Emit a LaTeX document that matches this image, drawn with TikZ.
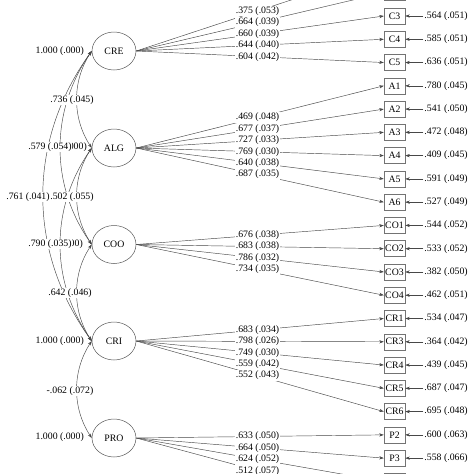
\documentclass[tikz,border=0pt]{standalone}
\usepackage{fontspec}
\setmainfont{Liberation Serif}
\usetikzlibrary{shapes.geometric,arrows.meta}
\begin{document}
\begin{tikzpicture}[x=1pt,y=-1pt,
  font=\fontsize{9.8}{11}\selectfont,
  latent/.style={ellipse,draw=black!65,line width=0.5pt,minimum width=44pt,minimum height=38pt,inner sep=0pt},
  obs/.style={rectangle,draw=black!55,line width=0.5pt,minimum width=21pt,minimum height=16pt,inner sep=0pt},
  lab/.style={fill=white,inner sep=0.8pt},
  con/.style={draw=black!72,line width=0.45pt},
  tip/.style={-{Stealth[length=4.5pt,width=3.2pt]}},
  dtip/.style={{Stealth[length=4.5pt,width=3.2pt]}-{Stealth[length=4.5pt,width=3.2pt]}}
]
\useasboundingbox (0,0) rectangle (474,474);
\fill[white] (0,0) rectangle (474,474);
\clip (0,0) rectangle (474,474);

% latent variables
\node[latent] (CRE) at (114,51) {CRE};
\node[latent] (ALG) at (114,148) {ALG};
\node[latent] (COO) at (114,244.5) {COO};
\node[latent] (CRI) at (114,341) {CRI};
\node[latent] (PRO) at (114,438) {PRO};

% indicators and loading lines
\foreach \n/\k/\lat in {C1/-2/CRE,C2/-1/CRE,C3/0/CRE,C4/1/CRE,C5/2/CRE,
  A1/3/ALG,A2/4/ALG,A3/5/ALG,A4/6/ALG,A5/7/ALG,A6/8/ALG,
  CO1/9/COO,CO2/10/COO,CO3/11/COO,CO4/12/COO,
  CR1/13/CRI,CR3/14/CRI,CR4/15/CRI,CR5/16/CRI,CR6/17/CRI,
  P2/18/PRO,P3/19/PRO,P4/20/PRO,P5/21/PRO}{
  \node[obs] (\n) at (394.5,{16+23.27*\k}) {\n};
  \draw[con,tip] (\lat.east) -- (\n.west);
}
% loading labels
\foreach \n/\lat/\ld in {C1/CRE/{.375 (.053)},C2/CRE/{.664 (.039)},C3/CRE/{.660 (.039)},C4/CRE/{.644 (.040)},C5/CRE/{.604 (.042)},
  A1/ALG/{.469 (.048)},A2/ALG/{.677 (.037)},A3/ALG/{.727 (.033)},A4/ALG/{.769 (.030)},A5/ALG/{.640 (.038)},A6/ALG/{.687 (.035)},
  CO1/COO/{.676 (.038)},CO2/COO/{.683 (.038)},CO3/COO/{.786 (.032)},CO4/COO/{.734 (.035)},
  CR1/CRI/{.683 (.034)},CR3/CRI/{.798 (.026)},CR4/CRI/{.749 (.030)},CR5/CRI/{.559 (.042)},CR6/CRI/{.552 (.043)},
  P2/PRO/{.633 (.050)},P3/PRO/{.664 (.050)},P4/PRO/{.624 (.052)},P5/PRO/{.512 (.057)}}{
  \path (\lat.east) -- node[lab,pos=0.49] (l\n) {\ld} (\n.west);
}
% error variances
\foreach \n/\e in {C3/{.564 (.051)},C4/{.585 (.051)},C5/{.636 (.051)},
  A1/{.780 (.045)},A2/{.541 (.050)},A3/{.472 (.048)},A4/{.409 (.045)},A5/{.591 (.049)},A6/{.527 (.049)},
  CO1/{.544 (.052)},CO2/{.533 (.052)},CO3/{.382 (.050)},CO4/{.462 (.051)},
  CR1/{.534 (.047)},CR3/{.364 (.042)},CR4/{.439 (.045)},CR5/{.687 (.047)},CR6/{.695 (.048)},
  P2/{.600 (.063)},P3/{.558 (.066)}}{
  \node[anchor=west,inner sep=1pt] (e\n) at ([xshift=18pt]\n.east) {\e};
  \draw[con,tip] (e\n.west) -- (\n.east);
}

% variances of latent variables
\node[anchor=east,inner sep=0pt] (vCRE) at (84,51) {1.000 (.000)};
\node[anchor=east,inner sep=0pt] (vALG) at (87,147) {1.000 (.000)};
\node[anchor=east,inner sep=0pt] (vCOO) at (83,244.5) {1.000 (.000)};
\node[anchor=east,inner sep=0pt] (vCRI) at (84,341) {1.000 (.000)};
\node[anchor=east,inner sep=0pt] (vPRO) at (84,437) {1.000 (.000)};

% covariances
\draw[con,dtip] (CRE.west) .. controls (72,81) and (72,118) .. (ALG.west);
\draw[con,dtip] (CRE.west) .. controls (50,111) and (50,185) .. (COO.west);
\draw[con,dtip] (CRE.west) .. controls (27,141) and (27,251) .. (CRI.west);
\draw[con,dtip] (ALG.west) .. controls (72,178) and (72,214) .. (COO.west);
\draw[con,dtip] (ALG.west) .. controls (50,208) and (50,281) .. (CRI.west);
\draw[con,dtip] (COO.west) .. controls (72,274) and (72,311) .. (CRI.west);
\draw[con,dtip] (CRI.west) .. controls (72,371) and (72,408) .. (PRO.west);

\node[lab] (cCREALG) at (72,100) {.736 (.045)};
\node[lab] (cCRECRI) at (28,197) {.761 (.041)};
\node[lab] (cCRECOO) at (50,147) {.579 (.054)};
\node[lab] (cALGCOO) at (72,197) {.502 (.055)};
\node[lab] (cALGCRI) at (50,244) {.790 (.035)};
\node[lab] (cCOOCRI) at (70,293) {.642 (.046)};
\node[lab] (cCRIPRO) at (70,391) {-.062 (.072)};
\end{tikzpicture}
\end{document}
